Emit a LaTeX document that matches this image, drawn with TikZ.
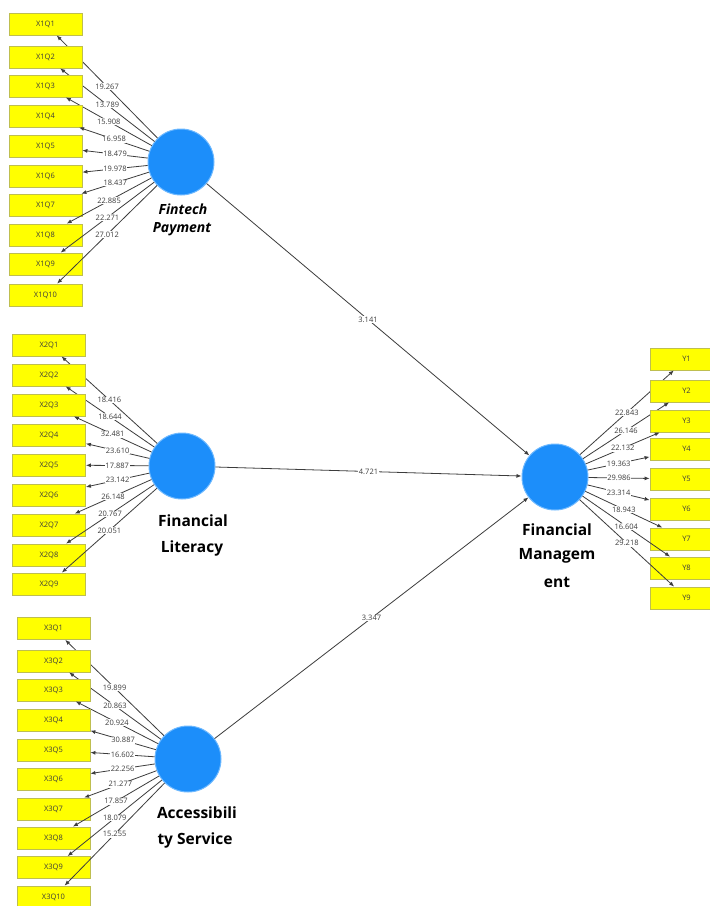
\documentclass[tikz,border=0pt]{standalone}
\usepackage{fontspec}
\setmainfont{Open Sans}
\usetikzlibrary{arrows.meta}
\definecolor{lvblue}{RGB}{28,142,250}
\definecolor{lvedge}{RGB}{110,185,255}
\definecolor{indyel}{RGB}{255,255,0}
\definecolor{indedge}{RGB}{190,190,80}
\definecolor{lngray}{RGB}{60,60,60}
\definecolor{txtgray}{RGB}{60,60,60}
\tikzset{
  ind/.style={draw=indedge, fill=indyel, line width=0.8pt, minimum width=73pt, minimum height=22pt, inner sep=0pt, font=\fontsize{7.5}{8}\selectfont, text=txtgray},
  lv/.style={circle, fill=lvblue, draw=lvedge, line width=1pt, minimum size=66pt, inner sep=0pt},
  ld/.style={draw=lngray, line width=0.8pt, -{Latex[length=5pt,width=4pt]}},
  lbl/.style={fill=white, inner sep=0.6pt, font=\fontsize{7.5}{8}\selectfont, text=txtgray},
  cname/.style={font=\bfseries\fontsize{15.5}{17}\selectfont, text=black, inner sep=0pt},
  cnameit/.style={font=\bfseries\itshape\fontsize{14}{16}\selectfont, text=black, inner sep=0pt},
}
\begin{document}
\begin{tikzpicture}[x=1pt,y=-1pt]
\useasboundingbox[fill=white] (0,0) rectangle (710,906);
% latent variables
\node[lv] (fp) at (181,162) {};
\node[lv] (fl) at (182,466) {};
\node[lv] (as) at (188,759) {};
\node[lv] (fm) at (555,477) {};
% latent names
\node[cnameit] (fpn1) at (183,209) {Fintech};
\node[cnameit] (fpn2) at (182,229) {Payment};
\node[cname] (fln1) at (193,521) {Financial};
\node[cname] (fln2) at (192,548) {Literacy};
\node[cname] (asn1) at (197,813) {Accessibili};
\node[cname] (asn2) at (195,840) {ty Service};
\node[cname] (fmn1) at (557,530) {Financial};
\node[cname] (fmn2) at (557,556) {Managem};
\node[cname] (fmn3) at (557,582) {ent};
% structural paths
\draw[ld] (fp) -- coordinate[midway] (p1) (fm);
\draw[ld] (fl) -- coordinate[midway] (p2) (fm);
\draw[ld] (as) -- coordinate[midway] (p3) (fm);
\node[lbl] (p1l) at (p1) {3.141};
\node[lbl] (p2l) at (p2) {4.721};
\node[lbl] (p3l) at (p3) {3.347};
% Fintech Payment indicators
\foreach \n/\y in {1/24,2/57,3/86,4/116,5/146,6/176,7/205,8/235,9/264,10/295}{
  \node[ind] (x1q\n) at (45.5,\y) {X1Q\n};
  \draw[ld] (fp) -- coordinate[midway] (m1q\n) (x1q\n);
}
\foreach \n/\v in {1/19.267,2/13.789,3/15.908,4/16.958,5/18.479,6/19.978,7/18.437,8/22.885,9/22.271,10/27.012}{
  \node[lbl] (l1q\n) at (m1q\n) {\v};
}
% Financial Literacy indicators
\foreach \n/\y in {1/345,2/375,3/405,4/435,5/465,6/495,7/525,8/555,9/584}{
  \node[ind] (x2q\n) at (49,\y) {X2Q\n};
  \draw[ld] (fl) -- coordinate[midway] (m2q\n) (x2q\n);
}
\foreach \n/\v in {1/18.416,2/18.644,3/32.481,4/23.610,5/17.887,6/23.142,7/26.148,8/20.767,9/20.051}{
  \node[lbl] (l2q\n) at (m2q\n) {\v};
}
% Accessibility Service indicators
\foreach \n/\y in {1/628.5,2/661,3/690,4/720,5/750,6/779,7/809,8/838,9/867.5,10/897}{
  \node[ind] (x3q\n) at (53.5,\y) {X3Q\n};
  \draw[ld] (as) -- coordinate[midway] (m3q\n) (x3q\n);
}
\foreach \n/\v in {1/19.899,2/20.863,3/20.924,4/30.887,5/16.602,6/22.256,7/21.277,8/17.857,9/18.079,10/15.255}{
  \node[lbl] (l3q\n) at (m3q\n) {\v};
}
% Financial Management indicators
\foreach \n/\y in {1/359,2/391,3/421,4/449,5/479,6/509,7/539,8/568,9/598}{
  \node[ind] (y\n) at (686.5,\y) {Y\n};
  \draw[ld] (fm) -- coordinate[midway] (my\n) (y\n);
}
\foreach \n/\v in {1/22.843,2/26.146,3/22.132,4/19.363,5/29.986,6/23.314,7/18.943,8/16.604,9/29.218}{
  \node[lbl] (ly\n) at (my\n) {\v};
}
\end{tikzpicture}
\end{document}
